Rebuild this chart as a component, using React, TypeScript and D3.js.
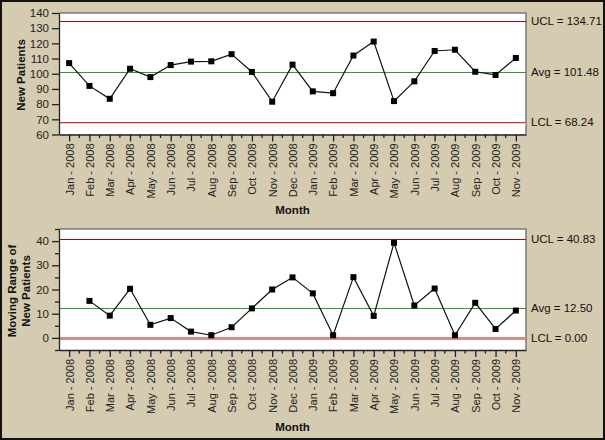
import { useRef, useEffect } from "react";
import * as d3 from "d3";

const months = [
  "Jan - 2008", "Feb - 2008", "Mar - 2008", "Apr - 2008", "May - 2008", "Jun - 2008",
  "Jul - 2008", "Aug - 2008", "Sep - 2008", "Oct - 2008", "Nov - 2008", "Dec - 2008",
  "Jan - 2009", "Feb - 2009", "Mar - 2009", "Apr - 2009", "May - 2009", "Jun - 2009",
  "Jul - 2009", "Aug - 2009", "Sep - 2009", "Oct - 2009", "Nov - 2009",
];

// individual values (New Patients)
const newPatients = [
  107, 92, 83.5, 103.3, 97.8, 105.7, 108, 108.2, 112.9, 101.2, 81.6, 106,
  88.4, 87.2, 112, 121.2, 82, 95, 115, 115.8, 101.3, 99.2, 110.4,
];

// moving range, starts at Feb - 2008
const movingRange = [
  15.3, 9.2, 20.3, 5.4, 8.2, 2.6, 1.1, 4.4, 12.2, 20.0, 25.0, 18.4,
  1.1, 25.1, 9.1, 39.3, 13.4, 20.4, 1.1, 14.5, 3.7, 11.3,
];

const limitNames = ["UCL", "Avg", "LCL"];
const patientLimits = [134.71, 101.48, 68.24];
const rangeLimits = [40.83, 12.5, 0];

const patientTicks = [60, 70, 80, 90, 100, 110, 120, 130, 140];
const rangeTicks = [0, 10, 20, 30, 40];
const rangeMinorTicks = [-5, 5, 15, 25, 35, 45];

const FONT = "'Liberation Sans', Arial, sans-serif";
const limitColors = ["#8e1414", "#2f9a2f", "#c83434"];

export default function App() {
  const ref = useRef<SVGSVGElement>(null);

  useEffect(() => {
    const svg = d3.select(ref.current);
    svg.selectAll("*").remove();
    const width = 605;
    const height = 440;
    const left = 59;
    const right = 526;

    svg.attr("width", width).attr("height", height).style("font-family", FONT);

    // background + outer frame
    svg
      .append("rect")
      .attr("x", 1)
      .attr("y", 1)
      .attr("width", width - 2)
      .attr("height", height - 2)
      .attr("fill", "#d4cbb0")
      .attr("stroke", "#111")
      .attr("stroke-width", 2);

    const x = d3.scalePoint<string>().domain(months).range([left, right]).padding(0.5);
    const mids = d3.pairs(months).map(([a, b]) => ((x(a) as number) + (x(b) as number)) / 2);

    const drawPanel = (opts: {
      y: d3.ScaleLinear<number, number>;
      ticks: number[];
      minor: number[];
      cats: string[];
      values: number[];
      limits: number[];
      title: string[];
      titleY: number;
      monthY: number;
      lclThick: boolean;
    }) => {
      const { y } = opts;
      const [y0, y1] = y.range();
      const g = svg.append("g");

      // plot area
      g.append("rect")
        .attr("x", left)
        .attr("y", y1)
        .attr("width", right - left)
        .attr("height", y0 - y1)
        .attr("fill", "#fff");
      g.append("path")
        .attr("d", `M${left},${y1}H${right}V${y0}`)
        .attr("fill", "none")
        .attr("stroke", "#7a7a7a")
        .attr("stroke-width", 1.5);

      // control limit lines
      opts.limits.forEach((v, i) => {
        const ly = Math.round(y(v)) + 0.5;
        if (i === 2) {
          g.append("line")
            .attr("x1", left)
            .attr("x2", right)
            .attr("y1", ly + (opts.lclThick ? 0 : 1))
            .attr("y2", ly + (opts.lclThick ? 0 : 1))
            .attr("stroke", opts.lclThick ? "#d38b8b" : "#f0c4c4")
            .attr("stroke-width", opts.lclThick ? 3 : 1);
          if (opts.lclThick) return;
        }
        g.append("line")
          .attr("x1", left)
          .attr("x2", right)
          .attr("y1", ly)
          .attr("y2", ly)
          .attr("stroke", limitColors[i])
          .attr("stroke-width", 1);
      });

      // limit labels
      opts.limits.forEach((v, i) => {
        g.append("text")
          .attr("x", right + 5)
          .attr("y", y(v))
          .attr("dy", "0.35em")
          .style("font-size", "11.5px")
          .attr("fill", "#111")
          .text(`${limitNames[i]} = ${v.toFixed(2)}`);
      });

      // y axis
      const yAxis = g
        .append("g")
        .attr("transform", `translate(${left},0)`)
        .call(d3.axisLeft(y).tickValues(opts.ticks).tickSize(7).tickSizeOuter(0).tickPadding(3));
      yAxis.selectAll("text").style("font-size", "11.5px").style("font-family", FONT).attr("fill", "#222");
      yAxis.selectAll("line,path").attr("stroke", "#222").attr("stroke-width", 1.3);
      if (opts.minor.length) {
        g.append("g")
          .attr("transform", `translate(${left},0)`)
          .call(d3.axisLeft(y).tickValues(opts.minor).tickSize(4).tickSizeOuter(0).tickFormat(() => ""))
          .call((a) => a.select(".domain").remove())
          .selectAll("line")
          .attr("stroke", "#222")
          .attr("stroke-width", 1.3);
      }

      // x axis
      const xAxis = g
        .append("g")
        .attr("transform", `translate(0,${y0})`)
        .call(d3.axisBottom(x).tickSize(7).tickSizeOuter(0));
      xAxis.selectAll("line,path").attr("stroke", "#222").attr("stroke-width", 1.3);
      xAxis
        .selectAll("text")
        .style("font-size", "11px")
        .style("font-family", FONT)
        .attr("fill", "#222")
        .attr("transform", "rotate(-90)")
        .attr("text-anchor", "end")
        .attr("x", -9)
        .attr("y", 0)
        .attr("dy", "0.35em");
      g.append("g")
        .selectAll("line")
        .data(mids)
        .join("line")
        .attr("x1", (d) => d)
        .attr("x2", (d) => d)
        .attr("y1", y0)
        .attr("y2", y0 + 3.5)
        .attr("stroke", "#222")
        .attr("stroke-width", 1.3);

      // axis titles
      g.append("text")
        .attr("x", (left + right) / 2)
        .attr("y", opts.monthY)
        .attr("text-anchor", "middle")
        .attr("dy", "0.35em")
        .style("font-size", "11.5px")
        .style("font-weight", "bold")
        .attr("fill", "#111")
        .text("Month");
      const n = opts.title.length;
      opts.title.forEach((t, i) => {
        const tx = n === 1 ? 21 : 12 + i * 14;
        g.append("text")
          .attr("transform", `translate(${tx},${opts.titleY}) rotate(-90)`)
          .attr("text-anchor", "middle")
          .attr("dy", "0.35em")
          .style("font-size", "11.5px")
          .style("font-weight", "bold")
          .attr("fill", "#111")
          .text(t);
      });

      // data line + markers
      const pts = opts.cats.map((c, i) => [x(c) as number, y(opts.values[i])] as [number, number]);
      g.append("path")
        .attr("d", d3.line()(pts))
        .attr("fill", "none")
        .attr("stroke", "#111")
        .attr("stroke-width", 1.2);
      g.append("g")
        .selectAll("rect")
        .data(pts)
        .join("rect")
        .attr("x", (d) => d[0] - 3)
        .attr("y", (d) => d[1] - 3)
        .attr("width", 6)
        .attr("height", 6)
        .attr("fill", "#000");
    };

    drawPanel({
      y: d3.scaleLinear().domain([60, 140]).range([134.5, 13]),
      ticks: patientTicks,
      minor: [],
      cats: months,
      values: newPatients,
      limits: patientLimits,
      title: ["New Patients"],
      titleY: 75,
      monthY: 210,
      lclThick: false,
    });

    drawPanel({
      y: d3.scaleLinear().domain([-5, 45]).range([350, 229]),
      ticks: rangeTicks,
      minor: rangeMinorTicks,
      cats: months.slice(1),
      values: movingRange,
      limits: rangeLimits,
      title: ["Moving Range of", "New Patients"],
      titleY: 291,
      monthY: 427,
      lclThick: true,
    });
  }, []);

  return (
    <>
      <style>{`body{margin:0}`}</style>
      <svg ref={ref}></svg>
    </>
  );
}
